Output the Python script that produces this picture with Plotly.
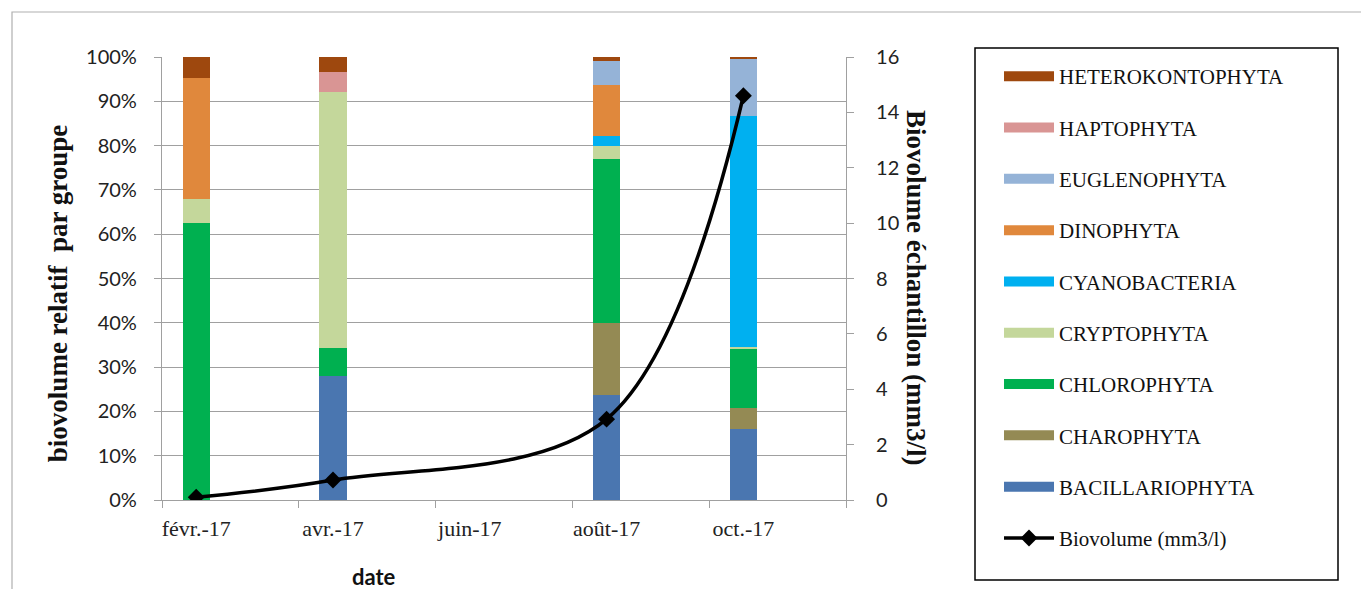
import plotly.graph_objects as go

# Sampling dates (year-month) and relative biovolume per group, in %
sample_dates = ["2017-02", "2017-04", "2017-08", "2017-10"]

groups = [
    "BACILLARIOPHYTA", "CHAROPHYTA", "CHLOROPHYTA", "CRYPTOPHYTA",
    "CYANOBACTERIA", "DINOPHYTA", "EUGLENOPHYTA", "HAPTOPHYTA",
    "HETEROKONTOPHYTA",
]
bacillariophyta = [0.0, 28.0, 23.7, 16.0]
charophyta = [0.0, 0.0, 16.3, 4.8]
chlorophyta = [62.6, 6.2, 37.0, 13.5]
cryptophyta = [5.3, 58.0, 2.9, 0.3]
cyanobacteria = [0.0, 0.0, 2.3, 52.1]
dinophyta = [27.3, 0.0, 11.5, 0.0]
euglenophyta = [0.0, 0.0, 5.5, 12.8]
haptophyta = [0.0, 4.4, 0.0, 0.0]
heterokontophyta = [4.8, 3.4, 0.8, 0.5]

# Total sample biovolume (mm3/l)
biovolume = [0.1, 0.72, 2.92, 14.6]

# Month axis labels
month_labels = ["févr.-17", "avr.-17", "juin-17", "août-17", "oct.-17"]
label_months = ["2017-02", "2017-04", "2017-06", "2017-08", "2017-10"]
pct_ticks = list(range(0, 101, 10))

colors = {
    "BACILLARIOPHYTA": "#4A76B0",
    "CHAROPHYTA": "#948A54",
    "CHLOROPHYTA": "#00B050",
    "CRYPTOPHYTA": "#C4D79B",
    "CYANOBACTERIA": "#00B0F0",
    "DINOPHYTA": "#E0883C",
    "EUGLENOPHYTA": "#95B3D7",
    "HAPTOPHYTA": "#D99594",
    "HETEROKONTOPHYTA": "#9E480E",
}
series = [bacillariophyta, charophyta, chlorophyta, cryptophyta,
          cyanobacteria, dinophyta, euglenophyta, haptophyta,
          heterokontophyta]


def month_pos(ym):
    """Centre of a month slot, counted in months from 1 Feb 2017."""
    y, m = map(int, ym.split("-"))
    return (y - 2017) * 12 + (m - 2) + 0.5


x_pos = [month_pos(d) for d in sample_dates]

SERIF = "Liberation Serif"
SANS = "Lato"
GRID = "#A0A0A0"

fig = go.Figure()

n = len(groups)
for i, (g, vals) in enumerate(zip(groups, series)):
    fig.add_trace(go.Bar(
        x=x_pos, y=vals, name=g, width=0.4,
        marker=dict(color=colors[g], line=dict(width=0)),
        showlegend=False, legendgroup=g,
    ))
    # legend key drawn as a wide colour band
    fig.add_trace(go.Scatter(
        x=[None], y=[None], mode="lines", name=g, legendgroup=g,
        line=dict(color=colors[g], width=12), legendrank=n - i,
    ))

fig.add_trace(go.Scatter(
    x=x_pos, y=biovolume, yaxis="y2", name="Biovolume (mm3/l)",
    mode="lines+markers", line=dict(color="black", width=3.5, shape="spline"),
    marker=dict(symbol="diamond", size=13, color="black"),
    legendgroup="bio", legendrank=100,
))

# tick marks on month-slot boundaries
fig.add_trace(go.Scatter(x=[None], y=[None], xaxis="x2", showlegend=False))

fig.update_layout(
    width=1361, height=589,
    margin=dict(l=162, r=515, t=57, b=89),
    paper_bgcolor="white", plot_bgcolor="white",
    barmode="stack", bargap=0,
    showlegend=True,
    legend=dict(
        x=1.2237, xanchor="left", y=1.002, yanchor="top",
        borderwidth=0, maxheight=589,
        font=dict(family=SERIF, size=21, color="#111"),
        tracegroupgap=21, itemwidth=50,
        bgcolor="rgba(0,0,0,0)",
    ),
    xaxis=dict(
        range=[0, 10], tickmode="array",
        tickvals=[month_pos(m) for m in label_months], ticktext=month_labels,
        ticks="", showgrid=False, zeroline=False,
        showline=True, linecolor=GRID, linewidth=1.2,
        tickfont=dict(family=SERIF, size=22, color="#222"),
        ticklabelstandoff=8,
    ),
    xaxis2=dict(
        overlaying="x", range=[0, 10], tickmode="array",
        tickvals=[0, 2, 4, 6, 8, 10], showticklabels=False,
        ticks="outside", ticklen=7, tickcolor=GRID, tickwidth=1.2,
        showgrid=False, zeroline=False, showline=False, side="bottom",
        anchor="y",
    ),
    yaxis=dict(
        range=[0, 100], tickmode="array", tickvals=pct_ticks,
        ticktext=[f"{v}%" for v in pct_ticks],
        showgrid=True, gridcolor=GRID, gridwidth=1.2,
        zeroline=False, showline=True, linecolor=GRID, linewidth=1.2,
        ticks="outside", ticklen=7, tickcolor=GRID,
        tickfont=dict(family=SANS, size=20, color="#222"),
        ticklabelstandoff=13,
    ),
    yaxis2=dict(
        range=[0, 16], dtick=2, overlaying="y", side="right",
        showgrid=False, zeroline=False, showline=True, linecolor=GRID,
        linewidth=1.2, ticks="outside", ticklen=7, tickcolor=GRID,
        tickfont=dict(family=SANS, size=20, color="#222"),
        ticklabelstandoff=18,
    ),
    annotations=[
        dict(text="<b>biovolume relatif  par groupe</b>", textangle=-90,
             x=-0.152, y=0.467, xref="paper", yref="paper", showarrow=False,
             xanchor="center", yanchor="middle",
             font=dict(family=SERIF, size=27, color="#111")),
        dict(text="<b>Biovolume échantillon (mm3/l)</b>", textangle=90,
             x=1.1023, y=0.4786, xref="paper", yref="paper", showarrow=False,
             xanchor="center", yanchor="middle",
             font=dict(family=SERIF, size=27, color="#111")),
        dict(text="<b>date</b>", x=0.31, y=-0.1716, xref="paper",
             yref="paper", showarrow=False, xanchor="center",
             yanchor="middle",
             font=dict(family=SANS, size=22, color="#111")),
    ],
    shapes=[
        # outer chart frame
        dict(type="rect", xref="paper", yref="paper",
             x0=-0.2193, x1=1.76, y0=-0.22, y1=1.1016,
             line=dict(color="#B0B0B0", width=1.2), layer="below"),
        # legend frame
        dict(type="rect", xref="paper", yref="paper",
             x0=1.1886, x1=1.7193, y0=-0.1806, y1=1.0203,
             line=dict(color="black", width=1.5), layer="below"),
    ],
)

fig.write_html("out.html")
